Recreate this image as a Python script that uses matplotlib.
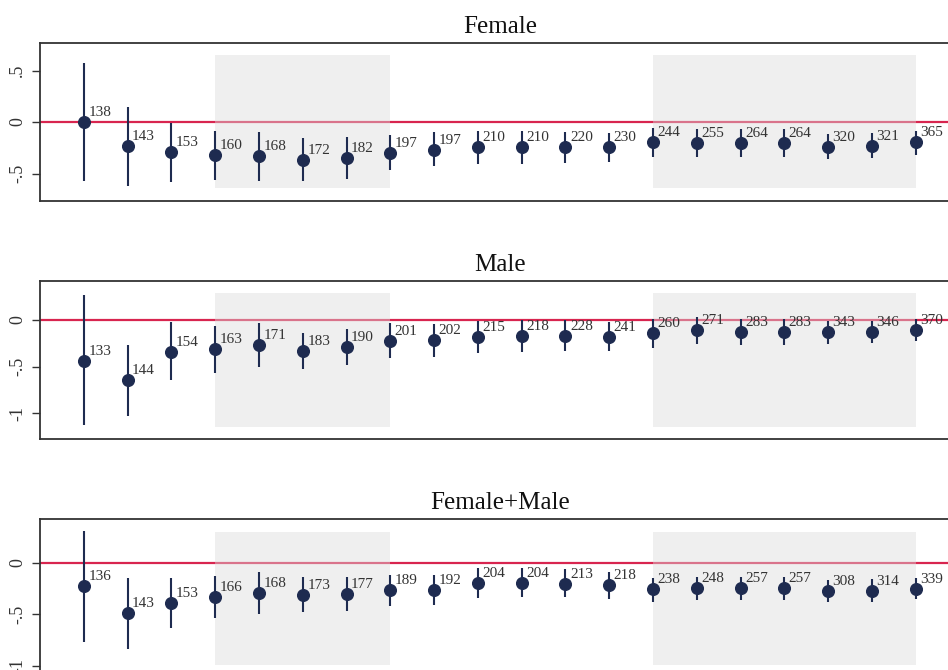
import numpy as np
import matplotlib.pyplot as plt

plt.rcParams['font.family'] = ['Liberation Serif', 'DejaVu Serif']

x = np.arange(1, 21)

# Female
f_coef = [0.0, -0.233, -0.294, -0.323, -0.333, -0.369, -0.353, -0.304, -0.272, -0.243,
          -0.243, -0.243, -0.243, -0.194, -0.200, -0.200, -0.200, -0.240, -0.233, -0.194]
f_hi = [0.57, 0.15, -0.006, -0.084, -0.10, -0.16, -0.15, -0.13, -0.10, -0.085,
        -0.085, -0.10, -0.11, -0.055, -0.065, -0.065, -0.065, -0.12, -0.11, -0.087]
f_lo = [-0.57, -0.62, -0.58, -0.56, -0.57, -0.57, -0.55, -0.47, -0.43, -0.41,
        -0.41, -0.40, -0.385, -0.337, -0.343, -0.343, -0.343, -0.36, -0.35, -0.32]
f_n = [138, 143, 153, 160, 168, 172, 182, 197, 197, 210,
       210, 220, 230, 244, 255, 264, 264, 320, 321, 365]

# Male
m_coef = [-0.436, -0.647, -0.34, -0.315, -0.272, -0.332, -0.286, -0.222, -0.214, -0.182,
          -0.168, -0.171, -0.179, -0.143, -0.111, -0.125, -0.125, -0.132, -0.125, -0.104]
m_hi = [0.265, -0.264, -0.025, -0.064, -0.036, -0.139, -0.096, -0.036, -0.043, -0.007,
        0.0, 0.0, -0.018, 0.007, 0.029, 0.014, 0.014, -0.011, -0.007, 0.007]
m_lo = [-1.13, -1.025, -0.647, -0.571, -0.507, -0.525, -0.486, -0.411, -0.393, -0.357,
        -0.34, -0.336, -0.332, -0.296, -0.261, -0.268, -0.268, -0.257, -0.25, -0.229]
m_n = [133, 144, 154, 163, 171, 183, 190, 201, 202, 215,
       218, 228, 241, 260, 271, 283, 283, 343, 346, 370]

# Female+Male
b_coef = [-0.226, -0.492, -0.388, -0.336, -0.297, -0.31, -0.304, -0.265, -0.262, -0.197,
          -0.194, -0.204, -0.22, -0.259, -0.249, -0.249, -0.249, -0.275, -0.275, -0.252]
b_hi = [0.31, -0.149, -0.149, -0.126, -0.093, -0.142, -0.142, -0.116, -0.119, -0.051,
        -0.054, -0.064, -0.09, -0.146, -0.136, -0.136, -0.136, -0.168, -0.162, -0.149]
b_lo = [-0.767, -0.841, -0.631, -0.54, -0.495, -0.482, -0.466, -0.42, -0.414, -0.34,
        -0.337, -0.337, -0.35, -0.385, -0.362, -0.362, -0.362, -0.385, -0.385, -0.356]
b_n = [136, 143, 153, 166, 168, 173, 177, 189, 192, 204,
       204, 213, 218, 238, 248, 257, 257, 308, 314, 339]

titles = ['Female', 'Male', 'Female+Male']
coefs = [f_coef, m_coef, b_coef]
his = [f_hi, m_hi, b_hi]
los = [f_lo, m_lo, b_lo]
ns = [f_n, m_n, b_n]

ylims = [(-0.767, 0.767), (-1.279, 0.421), (-1.11, 0.424)]
yticks = [[-0.5, 0, 0.5], [-1, -0.5, 0], [-1, -0.5, 0]]
shade = [(-0.645, 0.65), (-1.15, 0.29), (-0.995, 0.30)]
shade_x = [(4, 8), (14, 20)]

# axes boxes in figure fractions (bottom, height); right side runs off the figure
boxes = [(0.700, 0.2358), (0.3443, 0.2367), (-0.0104, 0.2358)]

navy = '#1e2b50'
red = '#d8254f'
dark = '#333333'

fig = plt.figure(figsize=(9.48, 6.70), dpi=100)

for i in range(3):
    bot, h = boxes[i]
    ax = fig.add_axes([0.0422, bot, 0.970, h])
    ax.set_xlim(0, 21)
    ax.set_ylim(*ylims[i])

    ax.axhline(0, color=red, lw=1.6, zorder=1)
    for x0, x1 in shade_x:
        ax.fill_between([x0, x1], shade[i][0], shade[i][1], color='#dcdcdc',
                        alpha=0.43, lw=0, zorder=2)

    ax.vlines(x, los[i], his[i], color=navy, lw=1.5, zorder=3)
    ax.plot(x, coefs[i], 'o', color=navy, ms=8.4, zorder=4)
    for xi, yi, n in zip(x, coefs[i], ns[i]):
        ax.annotate(str(n), (xi, yi), xytext=(3.2, 4.3), textcoords='offset points',
                    ha='left', va='baseline', fontsize=11, color=dark, zorder=5)

    ax.set_yticks(yticks[i])
    ax.set_yticklabels([('%g' % t).replace('0.', '.') for t in yticks[i]],
                       rotation=90, va='center', fontsize=13, color=dark)
    ax.set_xticks([])
    ax.tick_params(axis='y', length=6, width=1, color=dark, pad=4)
    for s in ax.spines.values():
        s.set_color(dark)
        s.set_linewidth(1.3)
    ax.set_title(titles[i], fontsize=18, pad=7, color='#111111')

plt.savefig('out.png', dpi=100)
